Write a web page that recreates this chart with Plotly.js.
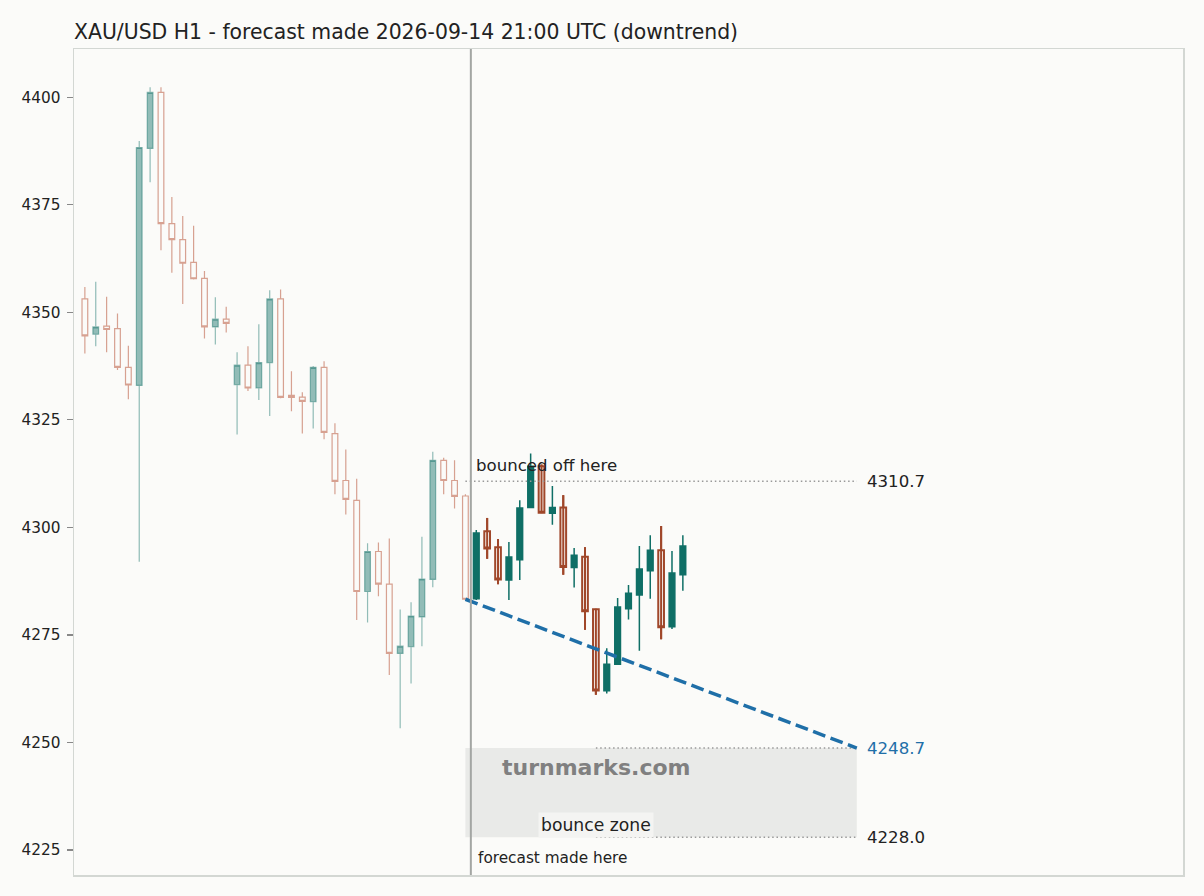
<!DOCTYPE html>
<html>
<head>
<meta charset="utf-8">
<script src="https://cdn.plot.ly/plotly-3.0.1.min.js"></script>
<style>
  html, body { margin: 0; padding: 0; background: #fbfbf9; }
  #plot { width: 1204px; height: 896px; }
</style>
</head>
<body>
<div id="plot"></div>
<script>
// history candles (before the forecast), hourly
var histOpen  = [4353.1, 4344.9, 4346.8, 4346.2, 4337.2, 4333.0, 4388.1, 4401.1, 4370.6, 4366.9, 4361.6, 4357.9,
                 4346.6, 4348.4, 4333.2, 4337.7, 4332.4, 4338.3, 4353.1, 4330.7, 4330.3, 4329.2, 4337.2, 4321.8,
                 4310.9, 4306.3, 4285.1, 4294.4, 4286.8, 4270.7, 4272.3, 4279.2, 4287.9, 4315.6, 4310.9, 4307.3];
var histHigh  = [4355.9, 4357.1, 4353.6, 4349.7, 4342.2, 4389.8, 4402.3, 4402.3, 4376.8, 4372.4, 4370.1, 4359.6,
                 4353.5, 4351.3, 4340.7, 4342.1, 4347.2, 4355.1, 4355.3, 4336.3, 4331.4, 4337.5, 4338.6, 4324.2,
                 4318.1, 4311.3, 4296.3, 4296.5, 4297.4, 4280.9, 4282.6, 4297.8, 4317.6, 4316.2, 4315.6, 4307.7];
var histLow   = [4340.4, 4342.1, 4340.7, 4336.6, 4329.8, 4292.0, 4380.2, 4364.4, 4359.2, 4351.9, 4357.6, 4343.9,
                 4342.5, 4345.3, 4321.6, 4331.7, 4329.6, 4325.9, 4330.0, 4327.0, 4321.8, 4323.0, 4320.5, 4307.7,
                 4303.0, 4278.5, 4277.9, 4284.0, 4265.7, 4253.3, 4263.7, 4272.4, 4286.1, 4307.7, 4304.4, 4283.1];
var histClose = [4344.5, 4346.6, 4346.0, 4337.2, 4333.1, 4388.3, 4401.1, 4370.6, 4366.9, 4361.4, 4357.8, 4346.6,
                 4348.4, 4347.4, 4337.7, 4332.4, 4338.3, 4353.1, 4330.2, 4330.2, 4329.3, 4337.2, 4322.1, 4310.7,
                 4306.5, 4285.1, 4294.4, 4286.8, 4270.7, 4272.4, 4279.4, 4288.0, 4315.6, 4310.9, 4307.2, 4283.3];

// candles after the forecast was made
var futOpen  = [4283.4, 4299.1, 4295.4, 4287.8, 4292.5, 4304.6, 4314.2, 4303.3, 4304.6, 4290.7,
                4293.2, 4281.0, 4262.0, 4268.2, 4281.1, 4284.3, 4289.9, 4294.7, 4276.9, 4289.0];
var futHigh  = [4299.4, 4302.2, 4297.3, 4296.6, 4306.3, 4317.2, 4314.6, 4309.6, 4307.5, 4295.2,
                4295.4, 4281.1, 4271.9, 4283.6, 4286.6, 4295.7, 4298.2, 4300.3, 4294.5, 4298.2];
var futLow   = [4283.1, 4292.7, 4286.8, 4283.1, 4287.8, 4304.5, 4303.3, 4300.6, 4289.0, 4286.0,
                4276.2, 4261.1, 4261.4, 4268.1, 4278.6, 4271.3, 4283.4, 4274.0, 4276.4, 4285.3];
var futClose = [4298.7, 4295.1, 4287.9, 4293.1, 4304.5, 4314.2, 4303.4, 4304.6, 4290.8, 4293.5,
                4280.5, 4262.1, 4268.2, 4281.5, 4284.7, 4290.3, 4294.7, 4276.8, 4289.4, 4295.7];

// forecast levels
var bounceLevel = 4310.7;
var targetLevel = 4248.7;
var zoneLow = 4228.0;
var horizon = 36;          // hours ahead the forecast runs
var zoneStartBar = 12;     // zone lines start this many bars after the forecast

var nHist = histOpen.length;
var histX = histOpen.map(function (_, i) { return i; });
var futX = futOpen.map(function (_, i) { return nHist + i; });
var lastBar = nHist - 1;
var forecastX = lastBar + 0.5;
var endX = lastBar + horizon;
var zoneX = lastBar + zoneStartBar;

var bg = '#fbfbf9';
var green = '#0f6f66';
var red = '#a0472a';
var blue = '#1f6fa8';
var font = 'DejaVu Sans, sans-serif';

// the wick shows through the hollow bodies of falling candles after the forecast
var wickX = [], wickY = [];
futX.forEach(function (x, i) {
  if (futClose[i] < futOpen[i]) {
    wickX.push(x, x, null);
    wickY.push(futLow[i], futHigh[i], null);
  }
});

var pastTrace = {
  type: 'candlestick',
  x: histX, open: histOpen, high: histHigh, low: histLow, close: histClose,
  increasing: { line: { color: 'rgba(15,111,102,0.45)', width: 1.2 }, fillcolor: 'rgba(15,111,102,0.45)' },
  decreasing: { line: { color: 'rgba(180,71,42,0.5)', width: 1.2 }, fillcolor: 'rgba(0,0,0,0)' },
  hoverinfo: 'skip'
};

var wickTrace = {
  type: 'scatter', mode: 'lines', x: wickX, y: wickY,
  line: { color: red, width: 2 }, hoverinfo: 'skip'
};

var afterTrace = {
  type: 'candlestick',
  x: futX, open: futOpen, high: futHigh, low: futLow, close: futClose,
  increasing: { line: { color: green, width: 1.5 }, fillcolor: green },
  decreasing: { line: { color: red, width: 2 }, fillcolor: 'rgba(0,0,0,0)' },
  hoverinfo: 'skip'
};

var dotted = { color: '#999999', width: 1.5, dash: '1.5px,2.8px' };
var bounceLine = {
  type: 'scatter', mode: 'lines',
  x: [lastBar, endX], y: [bounceLevel, bounceLevel], line: dotted, hoverinfo: 'skip'
};
var targetLine = {
  type: 'scatter', mode: 'lines',
  x: [zoneX, endX], y: [targetLevel, targetLevel], line: dotted, hoverinfo: 'skip'
};
var lowLine = {
  type: 'scatter', mode: 'lines',
  x: [zoneX, endX], y: [zoneLow, zoneLow], line: dotted, hoverinfo: 'skip'
};
var forecastTrace = {
  type: 'scatter', mode: 'lines',
  x: [lastBar, endX], y: [histClose[lastBar], targetLevel],
  line: { color: blue, width: 3.5, dash: '13px,5.6px' }, hoverinfo: 'skip'
};

var layout = {
  width: 1204, height: 896,
  paper_bgcolor: bg, plot_bgcolor: bg,
  margin: { l: 74, r: 21, t: 49, b: 21 },
  showlegend: false,
  hovermode: false,
  boxgap: 0.25,
  title: {
    text: 'XAU/USD H1 - forecast made 2026-09-14 21:00 UTC (downtrend)',
    font: { family: font, size: 20.4, color: '#222222' },
    x: 0, xref: 'paper', xanchor: 'left',
    y: 0.964, yref: 'container', yanchor: 'middle'
  },
  xaxis: {
    range: [-1, 101],
    showgrid: false, zeroline: false, showticklabels: false, ticks: '',
    showline: true, mirror: true, linecolor: '#d3d7d3', linewidth: 1.5,
    rangeslider: { visible: false }, fixedrange: true
  },
  yaxis: {
    range: [4219.2, 4411.2],
    tickvals: [4225, 4250, 4275, 4300, 4325, 4350, 4375, 4400],
    showgrid: false, zeroline: false,
    ticks: 'outside', ticklen: 6, tickcolor: '#888888', tickwidth: 1.3,
    ticklabelstandoff: 3,
    tickfont: { family: font, size: 15.3, color: '#222222' },
    showline: true, mirror: true, linecolor: '#d3d7d3', linewidth: 1.5,
    fixedrange: true
  },
  shapes: [
    { type: 'rect', xref: 'x', yref: 'y', x0: lastBar, x1: endX, y0: zoneLow, y1: targetLevel,
      fillcolor: '#e9eae8', line: { width: 0 }, layer: 'below' },
    { type: 'line', xref: 'x', yref: 'paper', x0: forecastX, x1: forecastX, y0: 0, y1: 1,
      line: { color: '#a3a6a3', width: 2 }, layer: 'above' }
  ],
  annotations: [
    { x: endX, y: bounceLevel, xref: 'x', yref: 'y', text: bounceLevel.toFixed(1), showarrow: false,
      xanchor: 'left', xshift: 8, font: { family: font, size: 16.6, color: '#222222' } },
    { x: endX, y: targetLevel, xref: 'x', yref: 'y', text: targetLevel.toFixed(1), showarrow: false,
      xanchor: 'left', xshift: 8, font: { family: font, size: 16.6, color: blue } },
    { x: endX, y: zoneLow, xref: 'x', yref: 'y', text: zoneLow.toFixed(1), showarrow: false,
      xanchor: 'left', xshift: 8, font: { family: font, size: 16.6, color: '#222222' } },
    { x: forecastX, y: bounceLevel, xref: 'x', yref: 'y', text: 'bounced off here', showarrow: false,
      xanchor: 'left', yanchor: 'bottom', xshift: 3, yshift: 4,
      font: { family: font, size: 16.6, color: '#222222' } },
    { x: forecastX, y: 0.02, xref: 'x', yref: 'paper', text: 'forecast made here', showarrow: false,
      xanchor: 'left', yanchor: 'middle', xshift: 5,
      font: { family: font, size: 15.3, color: '#222222' } },
    { x: zoneX, y: zoneLow, xref: 'x', yref: 'y', text: 'bounce zone', showarrow: false,
      xanchor: 'center', yanchor: 'bottom', yshift: -1, bgcolor: '#f4f4f2', borderpad: 2,
      font: { family: font, size: 17.2, color: '#222222' } },
    { x: zoneX, y: (zoneLow + targetLevel) / 2 + 5.3, xref: 'x', yref: 'y', text: '<b>turnmarks.com</b>', showarrow: false,
      xanchor: 'center', yanchor: 'middle', yshift: 2,
      font: { family: font, size: 22, color: '#808080' } }
  ]
};

Plotly.newPlot('plot', [pastTrace, wickTrace, afterTrace, bounceLine, targetLine, lowLine, forecastTrace], layout,
  { displayModeBar: false, staticPlot: true });
</script>
</body>
</html>
